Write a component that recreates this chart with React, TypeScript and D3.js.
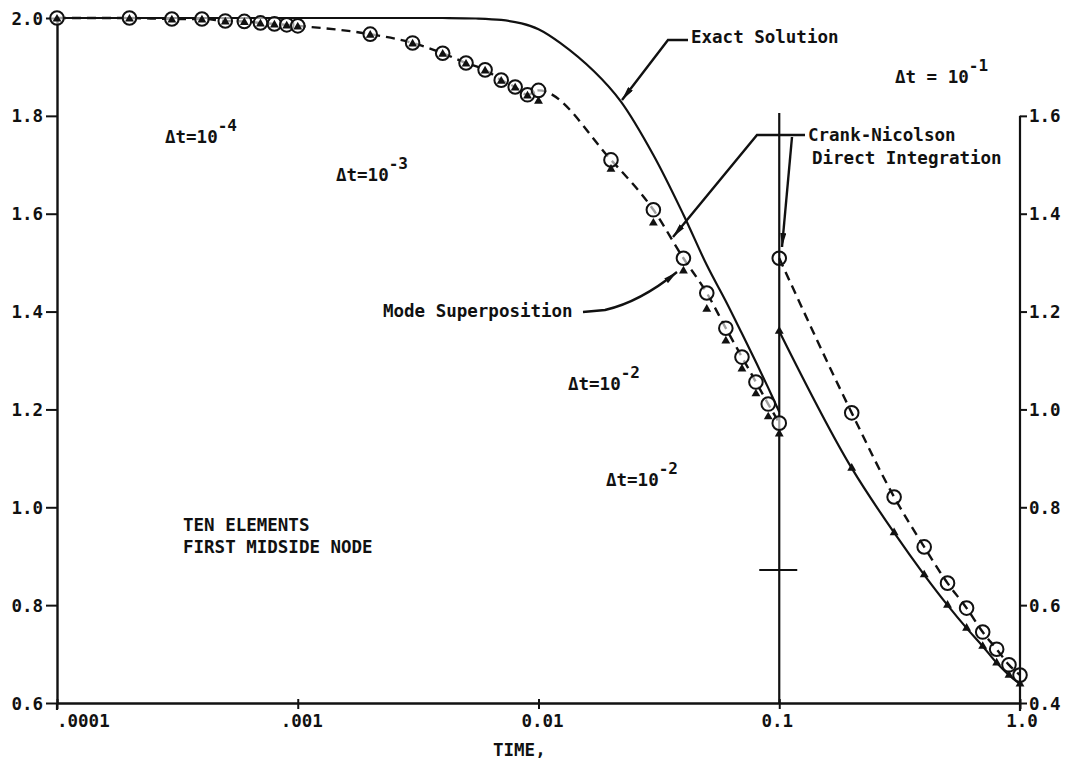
import React, { useEffect, useRef } from 'react';
import * as d3 from 'd3';

// left-axis runs (dt = 1e-4, 1e-3, 1e-2)
const tLeft = [
  0.0001, 0.0002, 0.0003, 0.0004, 0.0005, 0.0006, 0.0007, 0.0008, 0.0009, 0.001,
  0.002, 0.003, 0.004, 0.005, 0.006, 0.007, 0.008, 0.009, 0.01,
  0.02, 0.03, 0.04, 0.05, 0.06, 0.07, 0.08, 0.09, 0.1,
];
const crankLeft = [
  2.0, 2.0, 1.998, 1.998, 1.994, 1.993, 1.99, 1.988, 1.986, 1.984,
  1.967, 1.949, 1.928, 1.908, 1.894, 1.873, 1.859, 1.843, 1.852,
  1.71, 1.608, 1.509, 1.438, 1.366, 1.307, 1.256, 1.211, 1.172,
];
const modeLeft = [
  2.0, 2.0, 1.998, 1.998, 1.994, 1.993, 1.99, 1.988, 1.986, 1.984,
  1.967, 1.949, 1.928, 1.908, 1.894, 1.873, 1.859, 1.843, 1.832,
  1.693, 1.583, 1.485, 1.407, 1.342, 1.285, 1.234, 1.187, 1.152,
];

// exact solution (left axis)
const tExact = [0.0001, 0.001, 0.004, 0.0055, 0.007, 0.0085, 0.01, 0.0123, 0.017, 0.022, 0.03, 0.04, 0.05, 0.06, 0.07, 0.08, 0.09, 0.1];
const exactVals = [2.0, 2.0, 2.0, 1.999, 1.996, 1.989, 1.977, 1.949, 1.891, 1.829, 1.72, 1.598, 1.495, 1.421, 1.355, 1.297, 1.244, 1.195];

// dt = 1e-1 runs (right axis)
const tRight = [0.1, 0.2, 0.3, 0.4, 0.5, 0.6, 0.7, 0.8, 0.9, 1.0];
const crankRight = [1.309, 0.993, 0.821, 0.719, 0.645, 0.594, 0.545, 0.51, 0.478, 0.457];
const directRight = [1.16, 0.88, 0.748, 0.662, 0.6, 0.553, 0.516, 0.482, 0.457, 0.439];

const leftTicks = [0.6, 0.8, 1.0, 1.2, 1.4, 1.6, 1.8, 2.0];
const rightTicks = [0.4, 0.6, 0.8, 1.0, 1.2, 1.4, 1.6];
const xTicks = [0.0001, 0.001, 0.01, 0.1, 1.0];
const xTickLabels = ['.0001', '.001', '0.01', '0.1', '1.0'];

const FONT = '"DejaVu Sans Mono", monospace';

const App = () => {
  const svgRef = useRef(null);

  useEffect(() => {
    const svg = d3.select(svgRef.current);
    svg.selectAll('*').remove();

    const x = d3.scaleLog().domain([0.0001, 1]).range([57, 1020]);
    const yL = d3.scaleLinear().domain([0.6, 2.0]).range([703, 18]);
    const yR = d3.scaleLinear().domain([0.4, 1.8]).range([703, 18]);

    svg.append('defs').append('marker')
      .attr('id', 'arr')
      .attr('viewBox', '0 0 14 6')
      .attr('refX', 14).attr('refY', 3)
      .attr('markerWidth', 14).attr('markerHeight', 6)
      .attr('markerUnits', 'userSpaceOnUse')
      .attr('orient', 'auto')
      .append('path').attr('d', 'M0,0L14,3L0,6Z').attr('fill', '#111');

    const ink = '#111';

    // left axis
    const gl = svg.append('g')
      .attr('transform', 'translate(57,0)')
      .call(d3.axisLeft(yL).tickValues(leftTicks).tickSize(11).tickSizeOuter(0).tickFormat(d3.format('.1f')));
    gl.select('.domain').attr('stroke', ink).attr('stroke-width', 2.4);
    gl.selectAll('.tick line').attr('stroke', ink).attr('stroke-width', 2);
    gl.selectAll('.tick text').attr('font-family', FONT).attr('font-size', 17.5).attr('font-weight', 'bold')
      .attr('fill', ink).attr('x', -14).attr('dy', '0.35em');
    gl.append('line').attr('x1', 0).attr('x2', 0).attr('y1', yL(0.6)).attr('y2', yL(0.6) + 7)
      .attr('stroke', ink).attr('stroke-width', 2.2);

    // right axis
    const gr = svg.append('g')
      .attr('transform', 'translate(1020,0)')
      .call(d3.axisRight(yR).tickValues(rightTicks).tickSize(7).tickSizeOuter(0).tickFormat(d3.format('.1f')));
    gr.select('.domain').remove();
    gr.append('line').attr('x1', 0).attr('x2', 0).attr('y1', yR(1.6)).attr('y2', yR(0.4) + 8)
      .attr('stroke', ink).attr('stroke-width', 2.2);
    gr.selectAll('.tick line').attr('stroke', ink).attr('stroke-width', 2);
    gr.selectAll('.tick text').attr('font-family', FONT).attr('font-size', 17.5).attr('font-weight', 'bold')
      .attr('fill', ink).attr('x', 9).attr('dy', '0.35em');

    // bottom axis
    const gb = svg.append('g')
      .attr('transform', 'translate(0,703)')
      .call(d3.axisBottom(x).tickValues(xTicks).tickSize(6).tickSizeOuter(0).tickFormat(() => ''));
    gb.select('.domain').attr('stroke', ink).attr('stroke-width', 2.4);
    gb.selectAll('.tick line').attr('stroke', ink).attr('stroke-width', 2).attr('y1', -4);

    const labelShift = [0, 4, 4, -2, 2];
    svg.selectAll('.xlab')
      .data(xTicks)
      .enter()
      .append('text')
      .attr('class', 'xlab')
      .attr('x', (d, i) => x(d) + labelShift[i])
      .attr('y', 727)
      .attr('text-anchor', (d, i) => (i === 0 ? 'start' : 'middle'))
      .attr('font-family', FONT).attr('font-size', 17.5).attr('font-weight', 'bold').attr('fill', ink)
      .text((d, i) => xTickLabels[i]);

    // vertical line at t = 0.1 and crossbar
    svg.append('line').attr('x1', x(0.1)).attr('x2', x(0.1)).attr('y1', 113).attr('y2', 703)
      .attr('stroke', ink).attr('stroke-width', 2.2);
    svg.append('line').attr('x1', x(0.1) - 20).attr('x2', x(0.1) + 18).attr('y1', 570).attr('y2', 570)
      .attr('stroke', ink).attr('stroke-width', 2);

    const lineL = d3.line().x(d => x(d[0])).y(d => yL(d[1])).curve(d3.curveMonotoneX);
    const lineE = d3.line().x(d => x(d[0])).y(d => yL(d[1])).curve(d3.curveCatmullRom.alpha(0.5));
    const lineR = d3.line().x(d => x(d[0])).y(d => yR(d[1])).curve(d3.curveMonotoneX);

    svg.append('path')
      .datum(tExact.map((t, i) => [t, exactVals[i]]))
      .attr('d', lineE).attr('fill', 'none').attr('stroke', ink).attr('stroke-width', 2.2);

    svg.append('path')
      .datum(tLeft.map((t, i) => [t, crankLeft[i]]))
      .attr('d', lineL).attr('fill', 'none').attr('stroke', ink).attr('stroke-width', 2.4)
      .attr('stroke-dasharray', '9,6');

    svg.append('path')
      .datum(tRight.map((t, i) => [t, crankRight[i]]))
      .attr('d', lineR).attr('fill', 'none').attr('stroke', ink).attr('stroke-width', 2.4)
      .attr('stroke-dasharray', '9,6');

    svg.append('path')
      .datum(tRight.map((t, i) => [t, directRight[i]]))
      .attr('d', lineR).attr('fill', 'none').attr('stroke', ink).attr('stroke-width', 2.2);

    const tri = d3.symbol().type(d3.symbolTriangle).size(34);

    // markers
    svg.selectAll('.cl')
      .data(tLeft)
      .enter()
      .append('circle')
      .attr('cx', d => x(d))
      .attr('cy', (d, i) => yL(crankLeft[i]))
      .attr('r', 6.8)
      .attr('fill', 'white')
      .attr('fill-opacity', 0.6)
      .attr('stroke', ink)
      .attr('stroke-width', 2);

    svg.selectAll('.tl')
      .data(tLeft)
      .enter()
      .append('path')
      .attr('d', tri)
      .attr('transform', (d, i) => `translate(${x(d)},${yL(modeLeft[i]) + 1})`)
      .attr('fill', ink);

    svg.selectAll('.cr')
      .data(tRight)
      .enter()
      .append('circle')
      .attr('cx', d => x(d))
      .attr('cy', (d, i) => yR(crankRight[i]))
      .attr('r', 6.8)
      .attr('fill', 'none')
      .attr('stroke', ink)
      .attr('stroke-width', 2);

    svg.selectAll('.tr')
      .data(tRight)
      .enter()
      .append('path')
      .attr('d', tri)
      .attr('transform', (d, i) => `translate(${x(d)},${yR(directRight[i])})`)
      .attr('fill', ink);

    // annotations
    const txt = (xx, yy, s, sup, size = 17.5) => {
      const t = svg.append('text')
        .attr('x', xx).attr('y', yy)
        .attr('font-family', FONT).attr('font-size', size).attr('font-weight', 'bold').attr('fill', ink)
        .text(s);
      if (sup) t.append('tspan').attr('dy', -12).attr('font-size', 16).text(sup);
    };

    txt(691, 43, 'Exact Solution');
    txt(895, 83, '\u0394t = 10', '-1');
    txt(808, 141, 'Crank-Nicolson');
    txt(812, 164, 'Direct Integration');
    txt(165, 143, '\u0394t=10', '-4');
    txt(336, 181, '\u0394t=10', '-3');
    txt(383, 317, 'Mode Superposition');
    txt(568, 390, '\u0394t=10', '-2');
    txt(606, 486, '\u0394t=10', '-2');
    txt(183, 531, 'TEN ELEMENTS');
    txt(183, 553, 'FIRST MIDSIDE NODE');
    txt(493, 756, 'TIME,');

    const lead = (d) => svg.append('path').attr('d', d).attr('fill', 'none')
      .attr('stroke', ink).attr('stroke-width', 2.4).attr('marker-end', 'url(#arr)');

    lead('M688,40L668,40L622,100');
    lead('M805,135L757,135L673,237');
    lead('M792,137L782,247');
    lead('M583,312L605,310Q640,302 677,272');
  }, []);

  return (
    <svg
      ref={svgRef}
      width={1067}
      height={763}
      style={{ position: 'absolute', left: 0, top: 0, background: 'white' }}
    />
  );
};

export default App;
